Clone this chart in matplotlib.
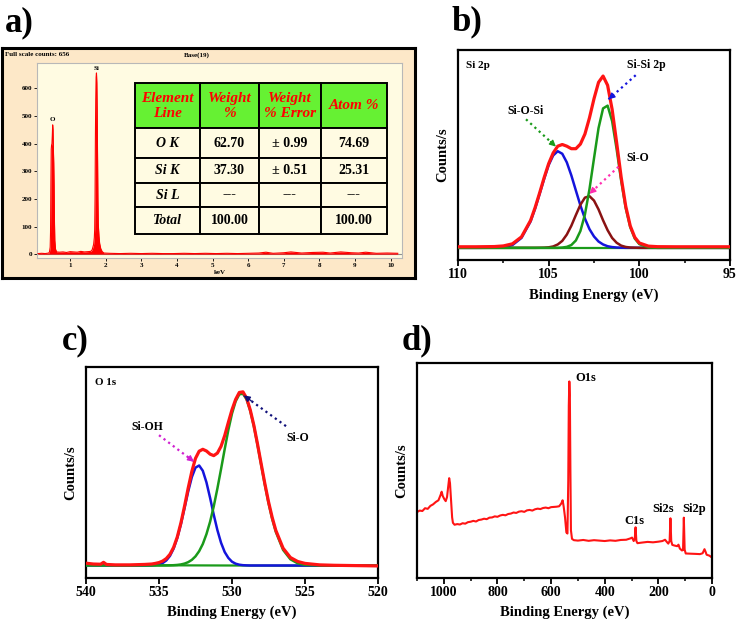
import matplotlib
matplotlib.use('Agg')
import matplotlib.pyplot as plt
from matplotlib.ticker import MultipleLocator

# ---------------- data ----------------
# a) EDX spectrum
edx_kev = [0.10, 0.20, 0.30, 0.40, 0.42, 0.44, 0.45, 0.46, 0.47, 0.48, 0.49, 0.50, 0.51, 0.52,
           0.53, 0.54, 0.55, 0.56, 0.57, 0.59, 0.62, 0.70, 0.80, 0.90, 1.00, 1.10, 1.20,
           1.30, 1.40, 1.50, 1.58, 1.62, 1.66, 1.68, 1.69, 1.70, 1.71, 1.72, 1.73, 1.74,
           1.75, 1.76, 1.77, 1.78, 1.79, 1.81, 1.83, 1.86, 1.90, 1.95, 2.10, 2.40, 2.70,
           3.00, 3.30, 3.60, 3.90, 4.20, 4.50, 4.80, 5.10, 5.40, 5.70, 6.00, 6.30, 6.50,
           6.70, 7.00, 7.20, 7.50, 7.80, 8.10, 8.30, 8.60, 8.90, 9.10, 9.30, 9.60, 9.90, 10.20]
edx_counts = [2, 3, 2, 4, 8, 25, 80, 250, 380, 395, 400, 430, 468, 450,
              380, 330, 250, 120, 50, 18, 8, 7, 8, 6, 9, 8, 7,
              10, 8, 9, 10, 16, 35, 60, 90, 200, 420, 560, 640, 656,
              620, 520, 360, 200, 110, 65, 38, 20, 9, 4, 3, 2, 3,
              2, 3, 2, 2, 3, 2, 3, 2, 3, 2, 3, 4, 7,
              3, 5, 8, 4, 6, 7, 4, 8, 5, 4, 7, 3, 4, 3]
edx_peak_names = ['O', 'Si']
edx_peak_kev = [0.51, 1.74]
edx_peak_counts = [488, 672]

table_cols = ['Element\nLine', 'Weight\n%', 'Weight\n% Error', 'Atom %']
table_rows = [['O K', '62.70', '± 0.99', '74.69'],
              ['Si K', '37.30', '± 0.51', '25.31'],
              ['Si L', '---', '---', '---'],
              ['Total', '100.00', '', '100.00']]

# b) Si 2p
b_be = [110, 109, 108, 107.5, 107, 106.5, 106, 105.75, 105.5, 105.25, 105, 104.75, 104.5,
        104.25, 104, 103.75, 103.5, 103.25, 103, 102.75, 102.5, 102.25, 102, 101.75, 101.5,
        101.25, 101, 100.75, 100.5, 100.25, 100, 99.5, 99, 98, 97, 96, 95]
b_siosi = [5.8, 5.8, 5.85, 6.1, 7.1, 10.5, 18.3, 24.4, 31.4, 38.6, 45.2, 49.8, 51.8,
           50.6, 46.5, 40.3, 33.1, 26.0, 19.7, 14.7, 11.2, 8.8, 7.4, 6.56, 6.15,
           5.95, 5.86, 5.8, 5.8, 5.8, 5.8, 5.8, 5.8, 5.8, 5.8, 5.8, 5.8]
b_sio = [5.8, 5.8, 5.8, 5.8, 5.8, 5.8, 5.8, 5.8, 5.83, 5.88, 6.04, 6.45, 7.4,
         9.1, 12.1, 16.3, 21.4, 26.3, 29.7, 30.4, 28.3, 24.1, 18.9, 14.2, 10.5,
         8.2, 6.84, 6.21, 5.94, 5.85, 5.8, 5.8, 5.8, 5.8, 5.8, 5.8, 5.8]
b_sisi = [5.8, 5.8, 5.8, 5.8, 5.8, 5.8, 5.8, 5.8, 5.8, 5.8, 5.8, 5.8, 5.8,
          5.93, 6.24, 7.13, 9.3, 13.8, 21.7, 33.7, 48.4, 62.8, 72.2, 73.5, 66.1,
          52.7, 37.7, 24.7, 15.6, 10.2, 7.56, 5.98, 5.8, 5.8, 5.8, 5.8, 5.8]
b_total = [6.3, 6.3, 6.4, 6.7, 7.7, 11.0, 18.8, 24.9, 31.9, 39.2, 45.9, 51.0, 54.2,
           55.0, 54.2, 53.0, 53.0, 55.2, 60.0, 67.7, 76.8, 84.6, 87.6, 83.2, 71.7,
           55.8, 39.3, 25.6, 16.2, 10.8, 8.1, 6.6, 6.35, 6.3, 6.3, 6.3, 6.3]
b_base_be = [110, 95]
b_base = [5.8, 5.8]

# c) O 1s
c_be = [540, 539.5, 539, 538.8, 538.6, 538, 537, 536.5, 536, 535.5, 535.25, 535, 534.75,
        534.5, 534.25, 534, 533.75, 533.5, 533.25, 533, 532.75, 532.5, 532.25, 532,
        531.75, 531.5, 531.25, 531, 530.75, 530.5, 530.25, 530, 529.75, 529.5, 529.25,
        529, 528.75, 528.5, 528.25, 528, 527.75, 527.5, 527.25, 527, 526.5, 526, 525.5,
        525, 524, 523, 522, 521, 520]
c_sioh = [5.7, 5.7, 5.7, 5.7, 5.7, 5.7, 5.7, 5.7, 5.71, 5.79, 5.92, 6.23, 6.87,
          8.1, 10.25, 13.7, 18.7, 25.3, 33.0, 40.9, 47.7, 52.2, 53.2, 50.7,
          45.2, 37.8, 29.8, 22.5, 16.5, 12.1, 9.3, 7.5, 6.56, 6.08, 5.85,
          5.76, 5.7, 5.7, 5.7, 5.7, 5.7, 5.7, 5.7, 5.7, 5.7, 5.7, 5.7,
          5.7, 5.7, 5.7, 5.7, 5.7, 5.7]
c_sio = [5.7, 5.7, 5.7, 5.7, 5.7, 5.7, 5.7, 5.7, 5.7, 5.7, 5.71, 5.71, 5.72,
         5.73, 5.77, 5.84, 5.97, 6.2, 6.61, 7.29, 8.38, 10.05, 12.5, 15.9,
         20.6, 26.5, 33.8, 42.3, 51.5, 61.0, 70.1, 77.9, 83.7, 87.0, 87.3,
         84.6, 79.2, 71.8, 62.9, 53.4, 44.1, 35.4, 27.9, 21.7, 13.1, 8.66, 6.72,
         6.0, 5.72, 5.7, 5.7, 5.7, 5.7]
c_total = [6.8, 6.4, 6.3, 7.2, 6.2, 6.0, 6.0, 6.1, 6.2, 6.4, 6.7, 7.1, 7.8,
           9.0, 11.0, 14.3, 19.2, 25.9, 33.9, 42.5, 50.4, 56.6, 60.0, 60.9,
           60.1, 58.6, 57.9, 59.1, 62.3, 67.4, 73.7, 79.7, 84.6, 87.9, 88.2,
           85.2, 79.6, 72.2, 63.3, 53.9, 44.6, 36.0, 28.6, 22.4, 13.9, 9.5, 7.6,
           6.7, 6.0, 5.8, 5.7, 5.6, 5.5]
c_base_be = [540, 520]
c_base = [5.9, 5.5]

# d) survey
d_be = [1100, 1090, 1080, 1070, 1060, 1050, 1040, 1030, 1020, 1012, 1008, 1004, 998, 993,
        988, 984, 980, 977, 973, 969, 966, 960, 950, 940, 930, 920, 910, 900, 890, 880,
        870, 860, 850, 840, 830, 820, 810, 800, 790, 780, 770, 760, 750, 740, 730, 720,
        710, 700, 690, 680, 670, 660, 650, 640, 630, 620, 610, 600, 590, 580, 570, 562,
        557, 553, 548, 543, 539, 536, 534, 532, 530, 528, 526, 522, 515, 500, 480, 460,
        440, 420, 400, 380, 360, 340, 320, 305, 298, 292, 288, 285, 282, 278, 260, 240,
        220, 200, 185, 175, 168, 163, 158, 155, 152, 148, 140, 130, 125, 120, 112, 108,
        105, 102, 98, 80, 60, 45, 35, 28, 24, 20, 10, 0]
d_cps = [30.5, 31.2, 31.0, 32.3, 32.0, 33.4, 34.1, 35.2, 36.0, 38.5, 40.0, 38.0, 36.5, 35.6,
         37.5, 42.0, 46.3, 44.0, 36.0, 28.0, 25.5, 24.6, 24.9, 24.7, 25.3, 25.1, 25.8, 26.0, 26.4, 26.1,
         26.8, 27.0, 27.4, 27.2, 27.9, 28.0, 28.5, 28.3, 28.9, 29.2, 29.0, 29.6, 29.8, 30.3, 30.1, 30.7,
         30.9, 30.6, 31.3, 31.5, 31.2, 31.8, 32.1, 31.9, 32.4, 32.6, 32.3, 32.8, 32.9, 33.0, 33.2, 34.5,
         36.0, 33.0, 28.0, 21.0, 20.5, 45.0, 80.0, 91.4, 85.0, 50.0, 22.0, 18.0, 17.4, 17.2, 17.5, 17.1,
         17.4, 17.2, 17.0, 17.3, 17.1, 17.5, 17.6, 18.2, 18.6, 17.0, 18.0, 23.4, 17.0, 16.0, 16.3, 16.6,
         16.4, 16.7, 17.0, 17.6, 16.5, 15.8, 17.0, 27.6, 17.0, 15.2, 14.9, 14.6, 15.3, 13.5, 12.6, 12.8,
         27.9, 13.0, 11.2, 11.1, 11.0, 10.9, 11.3, 13.2, 12.0, 10.6, 10.2, 9.3]
d_peak_names = ['O1s', 'C1s', 'Si2s', 'Si2p']
d_peak_be = [470, 290, 183, 68]
d_peak_cps = [93, 26.3, 32, 32]

# ---------------- style ----------------
W, H = 738, 619
fig = plt.figure(figsize=(W / 100, H / 100), dpi=100)
SERIF = ['Liberation Serif', 'DejaVu Serif']
RED, BLUE, GREEN, BROWN = '#ff1414', '#1414dc', '#1a9a1a', '#8a1212'


def px_axes(x0, y0, x1, y1, **kw):
    return fig.add_axes([x0 / W, 1 - y1 / H, (x1 - x0) / W, (y1 - y0) / H], **kw)


def style_xps(ax, xlim, ylim, major, minor):
    ax.set_xlim(*xlim)
    ax.set_ylim(*ylim)
    for s in ax.spines.values():
        s.set_linewidth(1.6)
    ax.set_yticks([])
    ax.xaxis.set_major_locator(MultipleLocator(major))
    if minor:
        ax.xaxis.set_minor_locator(MultipleLocator(minor))
    ax.tick_params(axis='x', which='major', direction='out', length=4, width=1.3, pad=2)
    ax.tick_params(axis='x', which='minor', direction='out', length=2.5, width=1.1)
    for lb in ax.get_xticklabels():
        lb.set_fontfamily(SERIF)
        lb.set_fontweight('bold')
        lb.set_fontsize(10)
    ax.set_xlabel('Binding Energy (eV)', fontfamily=SERIF, fontweight='bold',
                  fontsize=10.5, labelpad=5)
    ax.set_ylabel('Counts/s', fontfamily=SERIF, fontweight='bold', fontsize=10.5,
                  labelpad=6)


def dotted_arrow(ax, start, end, color):
    ax.plot([start[0], end[0]], [start[1], end[1]], ls=(0, (1, 1.6)), color=color,
            lw=1.6, zorder=6)
    pre = (end[0] + 0.18 * (start[0] - end[0]), end[1] + 0.18 * (start[1] - end[1]))
    ax.annotate('', xy=end, xytext=pre,
                arrowprops=dict(arrowstyle='-|>', color=color, lw=1.0,
                                mutation_scale=9, shrinkA=0, shrinkB=0), zorder=7)


def label(ax, x, y, s, size=9, **kw):
    ax.text(x, y, s, fontfamily=SERIF, fontweight='bold', fontsize=size, **kw)


# ---------------- a) EDX ----------------
frame = px_axes(2, 48, 415, 278)
frame.set_facecolor('#fde8c8')
frame.set_xticks([])
frame.set_yticks([])
for s in frame.spines.values():
    s.set_linewidth(2.2)

edx = px_axes(37, 63, 402, 258)
edx.set_facecolor('#fffbe2')
for s in edx.spines.values():
    s.set_color('#b8b8b8')
    s.set_linewidth(0.8)
edx.set_xlim(0.07, 10.32)
edx.set_ylim(-14, 692)
edx.axhline(0, color='#909090', lw=0.8, zorder=1)
edx.fill_between(edx_kev, edx_counts, 0, color='#ff0000', lw=0, zorder=2)
edx.plot(edx_kev, edx_counts, color='#ff0000', lw=0.8, zorder=3)
edx.set_yticks([0, 100, 200, 300, 400, 500, 600])
edx.set_xticks(list(range(1, 11)))
edx.tick_params(length=2.5, width=0.6, pad=1, labelsize=5)
for lb in edx.get_xticklabels() + edx.get_yticklabels():
    lb.set_fontfamily(SERIF)
    lb.set_fontweight('bold')
for nm, xk, yc in zip(edx_peak_names, edx_peak_kev, edx_peak_counts):
    label(edx, xk, yc, nm, size=5, ha='center', va='center')
edx.text(0.5, -0.075, 'keV', transform=edx.transAxes, ha='center', va='center',
         fontfamily=SERIF, fontweight='bold', fontsize=5)
fig.text(5 / W, 1 - 55 / H, 'Full scale counts: 656', fontfamily=SERIF,
         fontweight='bold', fontsize=5, va='center')
fig.text(197 / W, 1 - 55 / H, 'Base(19)', fontfamily=SERIF, fontweight='bold',
         fontsize=5, va='center', ha='center')

tab_ax = px_axes(135, 83.3, 387, 234)
tab_ax.axis('off')
tab = tab_ax.table(cellText=table_rows, colLabels=table_cols, bbox=[0, 0, 1, 1],
                   cellLoc='center')
tab.auto_set_font_size(False)
col_w = [65, 59, 61.7, 66.3]
row_h = [45, 29.4, 25, 24.6, 26.7]
aligns = ['right', 'right', 'center', 'center']
for (r, c), cell in tab.get_celld().items():
    cell.set_width(col_w[c])
    cell.set_height(row_h[r])
    cell.set_edgecolor('black')
    cell.set_linewidth(1.4)
    t = cell.get_text()
    t.set_fontfamily(SERIF)
    t.set_fontweight('bold')
    if r == 0:
        cell.set_facecolor('#66f133')
        t.set_color('#ff0000')
        t.set_fontstyle('italic')
        t.set_fontsize(11)
        t.set_linespacing(1.25)
    else:
        cell.set_facecolor('#fffbe2')
        t.set_fontsize(10)
        cell._loc = aligns[c]
        cell.PAD = 0.27 if c == 0 else (0.17 if c == 1 else 0.1)
        if c == 0:
            t.set_fontstyle('italic')

# ---------------- b) Si 2p ----------------
axb = px_axes(458, 50, 730, 260)
axb.plot(b_base_be, b_base, color=GREEN, lw=1.6, zorder=2)
axb.plot(b_be, b_siosi, color=BLUE, lw=1.8, zorder=3)
axb.plot(b_be, b_sio, color=BROWN, lw=1.8, zorder=3)
axb.plot(b_be, b_sisi, color=GREEN, lw=1.8, zorder=3)
axb.plot(b_be, b_total, color=RED, lw=2.3, zorder=4)
style_xps(axb, (110, 95), (0, 100), 5, 2.5)
label(axb, 0.03, 0.95, 'Si 2p', size=8, transform=axb.transAxes, va='top')
label(axb, 99.6, 92.9, 'Si-Si 2p', size=8.5, ha='center', va='center')
label(axb, 106.3, 71, 'Si-O-Si', size=8.5, ha='center', va='center')
label(axb, 100.1, 48.4, 'Si-O', size=8.5, ha='center', va='center')
dotted_arrow(axb, (100.2, 88), (101.7, 76.5), BLUE)
dotted_arrow(axb, (106.25, 67), (104.6, 54), GREEN)
dotted_arrow(axb, (101.15, 44.4), (102.75, 31.5), '#ff2fb0')

# ---------------- c) O 1s ----------------
axc = px_axes(86, 367, 378, 577.5)
axc.plot(c_base_be, c_base, color=GREEN, lw=1.6, zorder=2)
axc.plot(c_be, c_sioh, color=BLUE, lw=1.8, zorder=3)
axc.plot(c_be, c_sio, color=GREEN, lw=1.8, zorder=3)
axc.plot(c_be, c_total, color=RED, lw=2.3, zorder=4)
style_xps(axc, (540, 520), (0, 100), 5, None)
label(axc, 0.03, 0.95, 'O 1s', size=8, transform=axc.transAxes, va='top')
label(axc, 535.8, 71.3, 'Si-OH', size=8.5, ha='center', va='center')
label(axc, 525.5, 66.5, 'Si-O', size=8.5, ha='center', va='center')
dotted_arrow(axc, (535.0, 67.6), (532.6, 55), '#d020d0')
dotted_arrow(axc, (526.3, 71.9), (529.2, 86.5), '#10107a')

# ---------------- d) survey ----------------
axd = px_axes(417, 363, 712, 577.5)
axd.plot(d_be, d_cps, color=RED, lw=1.5)
style_xps(axd, (1100, 0), (0, 100), 200, 100)
for nm, xb, yc in zip(d_peak_names, d_peak_be, d_peak_cps):
    label(axd, xb, yc, nm, size=9, ha='center', va='center')

# panel letters
for s, x, y in [('a)', 5, 31), ('b)', 452, 30), ('c)', 62, 349), ('d)', 402, 349)]:
    fig.text(x / W, 1 - y / H, s, fontfamily=SERIF, fontweight='bold', fontsize=25,
             va='baseline')

fig.savefig('out.png', dpi=100)
